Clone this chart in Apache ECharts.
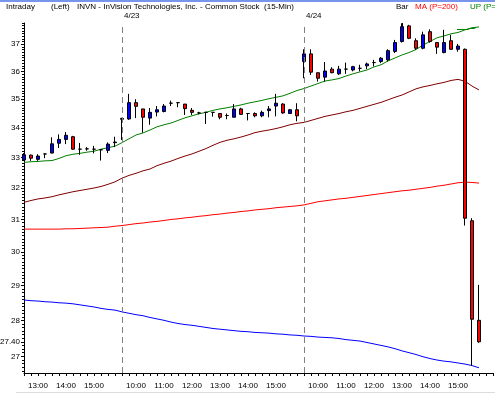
<!DOCTYPE html>
<html><head><meta charset="utf-8">
<script src="https://cdn.jsdelivr.net/npm/echarts@6/dist/echarts.min.js"></script>
<style>html,body{margin:0;padding:0;background:#fff}#c{width:495px;height:393px}</style>
</head><body><div id="c"></div>
<script>
// ---- categories ----
const dates = ['4/22', '4/23', '4/24'];
const firstDayTimes = ['12:30','12:45','13:00','13:15','13:30','13:45','14:00','14:15','14:30','14:45','15:00','15:15','15:30','15:45'];
const sessionTimes = ['09:30','09:45','10:00','10:15','10:30','10:45','11:00','11:15','11:30','11:45','12:00','12:15','12:30','12:45','13:00','13:15','13:30','13:45','14:00','14:15','14:30','14:45','15:00','15:15','15:30','15:45'];
const hourLabels = ['10:00','11:00','12:00','13:00','14:00','15:00'];
const padCategories = ['pad1', 'pad2'];

// ---- OHLC (15-min bars) ----
const opens = [32.92,33.08,32.94,33.12,33.15,33.48,33.61,33.70,33.28,33.29,33.28,33.26,33.24,33.50,
  34.30,34.31,34.88,34.66,34.34,34.55,34.57,34.86,34.88,34.83,34.61,34.52,34.54,34.54,34.50,34.43,34.37,34.66,34.50,34.50,34.42,34.60,34.76,34.83,34.50,34.63,
  36.36,36.64,35.95,35.79,36.08,35.91,36.08,36.05,36.11,36.20,36.32,36.36,36.42,36.73,37.10,37.69,37.13,36.85,37.47,37.06,36.69,37.13,36.81,36.81,30.96,28.00];
const closes = [33.09,32.98,33.05,33.12,33.46,33.61,33.75,33.28,33.28,33.29,33.28,33.26,33.45,33.52,
  34.33,34.88,34.75,34.37,34.54,34.63,34.76,34.86,34.88,34.67,34.54,34.52,34.54,34.54,34.37,34.43,34.66,34.47,34.50,34.42,34.54,34.66,34.86,34.52,34.63,34.42,
  36.64,35.97,35.75,36.01,35.95,36.08,36.08,36.17,36.11,36.27,36.32,36.48,36.76,37.06,37.66,37.22,36.85,37.35,37.10,36.89,37.06,36.81,36.93,31.04,28.03,27.40];
const lows = [32.89,32.89,32.89,32.98,33.14,33.32,33.45,33.26,33.09,33.23,33.14,32.90,33.15,33.35,
  33.59,34.28,34.34,33.84,34.11,34.40,34.54,34.76,34.72,34.45,34.45,34.47,34.14,34.39,34.30,34.30,34.37,34.45,34.26,34.37,34.37,34.37,34.40,34.49,34.49,34.23,
  35.75,35.87,35.63,35.63,35.93,35.87,35.91,36.00,36.00,36.08,36.18,36.30,36.36,36.67,37.06,37.19,36.79,36.81,37.06,36.64,36.66,36.79,36.72,30.81,26.74,27.37];
const highs = [33.15,33.10,33.11,33.13,33.68,33.78,33.86,33.73,33.49,33.35,33.39,33.28,33.51,33.70,
  34.35,35.19,35.00,34.66,34.69,34.76,34.83,34.95,34.89,34.83,34.69,34.56,34.56,34.54,34.50,34.50,34.83,34.70,34.50,34.54,34.60,34.76,35.19,34.86,34.66,34.86,
  36.81,36.81,35.95,36.34,36.15,36.20,36.32,36.20,36.24,36.32,36.42,36.52,36.81,37.16,37.79,37.73,37.22,37.47,37.56,37.06,37.54,37.35,37.01,36.84,31.04,29.02];

// ---- indicator lines ----
const upLine = [32.84,32.86,32.87,32.89,32.90,32.97,33.06,33.11,33.14,33.18,33.21,33.28,33.33,33.38,
  33.50,33.63,33.76,33.83,33.93,34.04,34.11,34.17,34.26,34.35,34.42,34.49,34.54,34.61,34.66,34.70,34.75,34.80,34.86,34.91,34.96,35.02,35.07,35.12,35.21,35.31,
  35.38,35.47,35.56,35.65,35.69,35.74,35.83,35.91,35.98,36.05,36.16,36.24,36.38,36.49,36.60,36.69,36.80,36.97,37.10,37.24,37.31,37.39,37.44,37.54,37.62,37.65];
const maroonLine = [31.54,31.60,31.65,31.68,31.72,31.78,31.83,31.88,31.92,31.96,32.00,32.05,32.12,32.20,
  32.32,32.41,32.48,32.56,32.62,32.73,32.81,32.88,32.97,33.05,33.12,33.21,33.30,33.41,33.51,33.58,33.63,33.69,33.76,33.84,33.89,33.93,33.98,34.04,34.11,34.16,
  34.19,34.26,34.33,34.40,34.45,34.50,34.56,34.61,34.68,34.75,34.82,34.89,34.98,35.07,35.15,35.26,35.37,35.44,35.49,35.55,35.60,35.67,35.71,35.64,35.47,35.33];
const ma200Line = [30.70,30.70,30.70,30.70,30.70,30.70,30.71,30.71,30.72,30.73,30.74,30.75,30.76,30.79,
  30.81,30.84,30.87,30.89,30.92,30.94,30.97,31.00,31.02,31.05,31.07,31.10,31.12,31.15,31.17,31.20,31.22,31.25,31.27,31.30,31.32,31.34,31.37,31.39,31.41,31.43,
  31.46,31.51,31.56,31.59,31.62,31.65,31.67,31.70,31.73,31.76,31.79,31.82,31.85,31.88,31.91,31.93,31.96,31.99,32.02,32.06,32.09,32.13,32.17,32.19,32.18,32.16];
const blueLine = [28.58,28.56,28.55,28.53,28.52,28.50,28.49,28.47,28.44,28.41,28.38,28.34,28.31,28.29,
  28.24,28.20,28.16,28.13,28.08,28.04,28.00,27.95,27.91,27.88,27.86,27.83,27.80,27.77,27.75,27.73,27.71,27.69,27.68,27.66,27.65,27.64,27.62,27.61,27.59,27.58,
  27.56,27.55,27.53,27.52,27.51,27.49,27.46,27.44,27.42,27.38,27.34,27.30,27.26,27.21,27.15,27.10,27.05,26.99,26.94,26.90,26.87,26.85,26.82,26.79,26.75,26.69];

// ---- y tick labels ----
const yTickLabels = ['27','27.40','28','29','30','31','32','33','34','35','36','37'];
const yMin = 26.55, yMax = 37.8;

// ---- build categories ----
const categories = [];
const dayStartIdx = [];
firstDayTimes.forEach(t => categories.push(dates[0] + ' ' + t));
[dates[1], dates[2]].forEach(d => {
  dayStartIdx.push(categories.length);
  sessionTimes.forEach(t => categories.push(d + ' ' + t));
});
padCategories.forEach(p => categories.push(p));

const candleData = opens.map((o, i) => [o, closes[i], lows[i], highs[i]]);
const yTickValues = yTickLabels.map(Number);
const minorTicks = [];
for (let v = 266; v <= 378; v++) minorTicks.push(v / 10);

const FONT = "'Liberation Sans', Arial, sans-serif";
const FS = 8;
const chart = echarts.init(document.getElementById('c'), null, {renderer: 'canvas'});

function lineSeries(name, data, color) {
  return {name, type: 'line', data, symbol: 'none', z: 1, silent: true,
    lineStyle: {color, width: 1}, itemStyle: {color}};
}

chart.setOption({
  animation: false,
  backgroundColor: '#ffffff',
  textStyle: {fontFamily: FONT, fontSize: FS, color: '#000'},
  grid: {left: 24, right: 2, top: 23, bottom: 20, containLabel: false, outerBoundsMode: 'none'},
  xAxis: [{
    type: 'category', data: categories, boundaryGap: false, position: 'bottom',
    axisLine: {lineStyle: {color: '#000', width: 1}},
    axisTick: {interval: 0, length: 3, lineStyle: {color: '#000'}},
    axisLabel: {
      interval: (i, v) => hourLabels.includes(String(v).split(' ')[1]),
      formatter: v => String(v).split(' ')[1] || '',
      margin: 9, fontSize: FS, fontFamily: FONT, color: '#000'
    },
    splitLine: {show: false}
  }, {
    type: 'category', data: categories, boundaryGap: false, position: 'top',
    axisLine: {show: false}, axisTick: {show: false},
    axisLabel: {
      interval: (i) => dayStartIdx.includes(i),
      formatter: v => String(v).split(' ')[0],
      align: 'left', padding: [0, 0, 0, 2], margin: 3, fontSize: FS, fontFamily: FONT, color: '#000'
    },
    splitLine: {show: false}
  }],
  yAxis: [{
    type: 'log', logBase: 10, min: yMin, max: yMax, position: 'left',
    axisLine: {show: true, lineStyle: {color: '#000', width: 1}},
    axisTick: {show: true, length: 3, customValues: yTickValues, lineStyle: {color: '#000'}},
    axisLabel: {
      customValues: yTickValues,
      formatter: v => { const k = yTickValues.findIndex(t => Math.abs(t - v) < 1e-6); return k >= 0 ? yTickLabels[k] : ''; },
      margin: 4, fontSize: FS, fontFamily: FONT, color: '#000'
    },
    splitLine: {show: false}
  }, {
    type: 'log', logBase: 10, min: yMin, max: yMax, position: 'left',
    axisLine: {show: false},
    axisTick: {show: true, length: 2, customValues: minorTicks, lineStyle: {color: '#000'}},
    axisLabel: {show: false},
    splitLine: {show: false}
  }],
  series: [
    lineSeries('UP', upLine, '#008000'),
    lineSeries('MA2', maroonLine, '#800000'),
    lineSeries('MA (P=200)', ma200Line, '#ff0000'),
    lineSeries('LOW', blueLine, '#0000ff'),
    {
      name: 'Bar', type: 'candlestick', data: candleData, z: 3, barWidth: 4,
      itemStyle: {color: '#0000ff', color0: '#ff0000', borderColor: '#000', borderColor0: '#000', borderColorDoji: '#000', borderWidth: 1},
      markLine: {
        silent: true, symbol: 'none', animation: false,
        label: {show: false},
        lineStyle: {color: '#808080', type: [6, 4], width: 1},
        data: dayStartIdx.map(i => ({xAxis: categories[i]}))
      }
    }
  ],
  graphic: [
    {type: 'rect', shape: {x: 0, y: 0, width: 495, height: 2}, style: {fill: '#7895ee'}, silent: true},
    {type: 'rect', shape: {x: 16, y: 392, width: 479, height: 1}, style: {fill: '#dcdcdc'}, silent: true},
    {type: 'text', x: 6, y: 7, style: {text: 'Intraday', fill: '#000', font: FS + 'px ' + FONT, verticalAlign: 'middle'}},
    {type: 'text', x: 51, y: 7, style: {text: '(Left)', fill: '#000', font: FS + 'px ' + FONT, verticalAlign: 'middle'}},
    {type: 'text', x: 77, y: 7, style: {text: 'INVN - InVision Technologies, Inc. - Common Stock  (15-Min)', fill: '#000', font: FS + 'px ' + FONT, verticalAlign: 'middle'}},
    {type: 'text', x: 396, y: 7, style: {text: 'Bar', fill: '#000', font: FS + 'px ' + FONT, verticalAlign: 'middle'}},
    {type: 'text', x: 415, y: 7, style: {text: 'MA (P=200)', fill: '#ff0000', font: FS + 'px ' + FONT, verticalAlign: 'middle'}},
    {type: 'text', x: 470, y: 7, style: {text: 'UP (P=20)', fill: '#008000', font: FS + 'px ' + FONT, verticalAlign: 'middle'}},
    {type: 'line', shape: {x1: 402.5, y1: 23, x2: 402.5, y2: 30}, style: {stroke: '#000', lineWidth: 1}},
    {type: 'rect', shape: {x: 400.5, y: 27.5, width: 3, height: 2.5}, style: {fill: '#0000ff', stroke: '#000', lineWidth: 1}},
    {type: 'rect', shape: {x: 407.5, y: 26.5, width: 3, height: 3}, style: {fill: '#ff0000', stroke: '#000', lineWidth: 1}},
    {type: 'polyline', shape: {points: [[457, 29.5], [468, 29.5], [470, 28.5], [474, 28.5], [476, 27.5]]}, style: {stroke: '#008000', lineWidth: 1, fill: null}}
  ]
});
</script>
</body></html>
